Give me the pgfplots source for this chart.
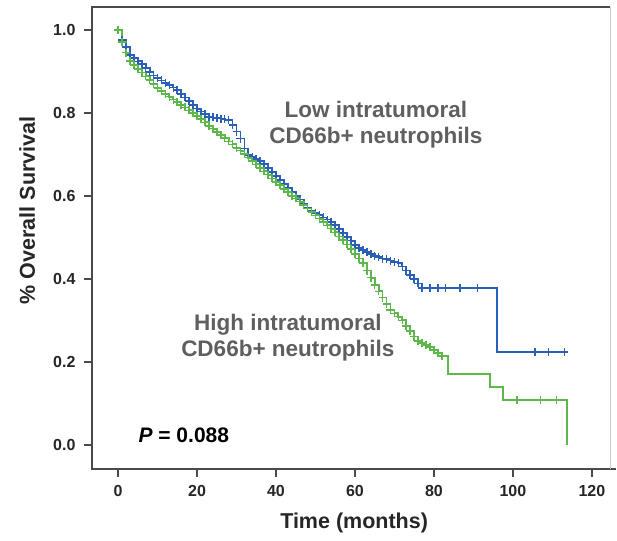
\documentclass[border=0pt]{standalone}
\usepackage{fontspec}
\setmainfont{Liberation Sans}
\usepackage{pgfplots}
\usepackage{pgfplotstable}
\pgfplotsset{compat=1.18}

\definecolor{lowblue}{HTML}{2A5FB8}
\definecolor{highgreen}{HTML}{5CB84A}
\definecolor{annot}{HTML}{5F5F5F}
\definecolor{frame}{HTML}{4A4A4A}

% Low intratumoral CD66b+ neutrophils
\pgfplotstableread{
t s
0 1.000
1 0.975
2 0.958
3 0.940
4 0.932
5 0.924
6 0.917
7 0.908
8 0.899
9 0.890
10 0.884
11 0.878
12 0.872
13 0.867
14 0.861
15 0.855
16 0.846
17 0.837
18 0.828
19 0.819
20 0.810
21 0.803
22 0.797
23 0.790
24 0.789
25 0.787
26 0.786
27 0.784
28 0.783
29 0.770
30 0.755
31 0.738
32 0.714
33 0.698
34 0.694
35 0.689
36 0.684
37 0.677
38 0.667
39 0.658
40 0.648
41 0.638
42 0.628
43 0.619
44 0.609
45 0.600
46 0.591
47 0.581
48 0.572
49 0.564
50 0.559
51 0.553
52 0.548
53 0.543
54 0.537
55 0.530
56 0.520
57 0.511
58 0.501
59 0.492
60 0.482
61 0.475
62 0.470
63 0.465
64 0.460
65 0.455
66 0.452
67 0.449
68 0.447
69 0.444
70 0.441
71 0.439
72 0.430
73 0.420
74 0.410
75 0.399
76 0.389
77 0.378
96 0.224
113 0.224
}\lowtab

\pgfplotstableread{
t s
79 0.378
81 0.378
83 0.378
86.6 0.378
91 0.378
105.6 0.224
109 0.224
113 0.224
}\lowcens

% High intratumoral CD66b+ neutrophils
\pgfplotstableread{
t s
0 1.000
1 0.970
2 0.945
3 0.925
4 0.915
5 0.906
6 0.897
7 0.888
8 0.879
9 0.870
10 0.860
11 0.852
12 0.845
13 0.839
14 0.832
15 0.826
16 0.819
17 0.813
18 0.806
19 0.800
20 0.792
21 0.785
22 0.777
23 0.769
24 0.762
25 0.754
26 0.747
27 0.739
28 0.731
29 0.724
30 0.716
31 0.709
32 0.701
33 0.692
34 0.684
35 0.676
36 0.667
37 0.659
38 0.651
39 0.642
40 0.634
41 0.626
42 0.617
43 0.609
44 0.600
45 0.594
46 0.586
47 0.578
48 0.570
49 0.561
50 0.553
51 0.545
52 0.537
53 0.529
54 0.521
55 0.512
56 0.502
57 0.494
58 0.483
59 0.472
60 0.460
61 0.449
62 0.438
63 0.420
64 0.403
65 0.385
66 0.370
67 0.355
68 0.340
69 0.325
70 0.317
71 0.309
72 0.300
73 0.287
74 0.274
75 0.261
76 0.251
77 0.246
78 0.241
79 0.236
80 0.229
81 0.221
82 0.214
83.5 0.170
94.2 0.140
97.5 0.108
113.7 0.000
}\hightab

\pgfplotstableread{
t s
101 0.108
107 0.108
111 0.108
}\highcens

\begin{document}
\begin{tikzpicture}
\useasboundingbox (0,0) rectangle (617pt,540pt);
\begin{axis}[
    at={(92pt,71pt)}, anchor=south west,
    scale only axis,
    width=518pt, height=462pt,
    xmin=-6.6, xmax=124.6,
    ymin=-0.058, ymax=1.055,
    xtick={0,20,...,120},
    ytick={0,0.2,...,1.0},
    xtick pos=left, ytick pos=left,
    tick align=outside,
    major tick length=8pt,
    tick style={frame, line width=1.4pt},
    axis line style={draw=none},
    /pgf/number format/assume math mode=true,
    yticklabel style={/pgf/number format/.cd, fixed, fixed zerofill, precision=1, /tikz/.cd, xshift=-5pt},
    xticklabel style={yshift=-5pt},
    ticklabel style={font=\fontsize{16}{18}\selectfont\bfseries, text=black!85},
    xlabel={Time (months)},
    ylabel={\% Overall Survival},
    label style={font=\fontsize{21.5}{24}\selectfont\bfseries, text=black!85},
    xlabel style={at={(axis description cs:0.506,-0.117)}, anchor=center},
    ylabel style={at={(axis description cs:-0.125,0.56)}, anchor=center},
    clip=false,
]
% frame: dark left, bottom, top; faint right
\draw[frame, line width=1.6pt] (rel axis cs:1.012,0) -- (rel axis cs:0,0) -- (rel axis cs:0,1) -- (rel axis cs:1,1);
\draw[black!20, line width=0.8pt] (rel axis cs:1,0) -- (rel axis cs:1,1);

\addplot[const plot, lowblue, line width=1.8pt, no marks] table[x=t, y=s] {\lowtab};
\addplot[only marks, lowblue, mark=+, mark size=4pt, line width=1.6pt,
    restrict x to domain=0:77.5] table[x=t, y=s] {\lowtab};
\addplot[only marks, lowblue, mark=+, mark size=4pt, line width=1.4pt] table[x=t, y=s] {\lowcens};

\addplot[const plot, highgreen, line width=1.8pt, no marks] table[x=t, y=s] {\hightab};
\addplot[only marks, highgreen, mark=+, mark size=4pt, line width=1.6pt,
    restrict x to domain=0:82.5] table[x=t, y=s] {\hightab};
\addplot[only marks, highgreen, mark=+, mark size=4pt, line width=1.4pt] table[x=t, y=s] {\highcens};

\node[annot, font=\fontsize{22.5}{26}\selectfont\bfseries, align=center] at (axis cs:65.3,0.771)
    {Low intratumoral\\CD66b+ neutrophils};
\node[annot, font=\fontsize{22.5}{26}\selectfont\bfseries, align=center] at (axis cs:43,0.258)
    {High intratumoral\\CD66b+ neutrophils};
\node[black, font=\fontsize{21}{24}\selectfont\bfseries, anchor=west] at (axis cs:4.3,0.024)
    {\itshape P\upshape{} = 0.088};
\end{axis}
\end{tikzpicture}
\end{document}
